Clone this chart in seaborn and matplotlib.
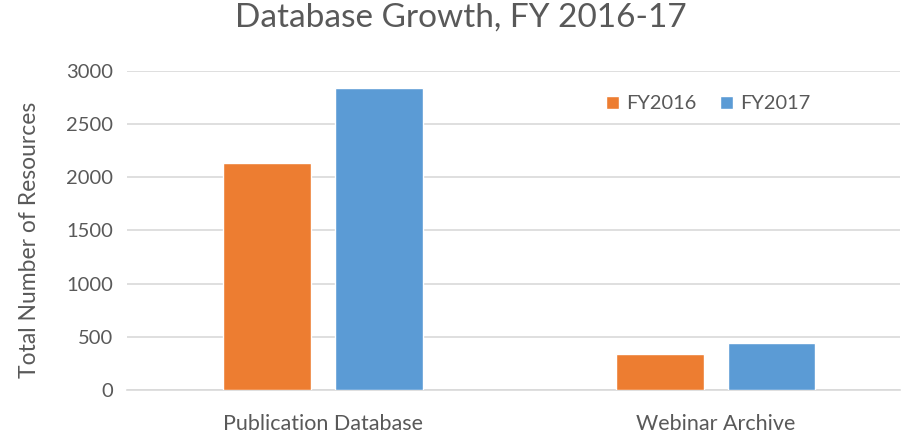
import pandas as pd
import seaborn as sns
from matplotlib import pyplot as plt

categories = ["Publication Database", "Webinar Archive"]
years = ["FY2016", "FY2017"]
fy2016 = [2135, 338]
fy2017 = [2835, 441]

df = pd.DataFrame({
    "Category": categories * 2,
    "Year": [years[0]] * 2 + [years[1]] * 2,
    "Resources": fy2016 + fy2017,
})

sns.set_style("white")
plt.rcParams["font.family"] = ["Lato", "DejaVu Sans"]
gray = "#595959"

fig = plt.figure(figsize=(9.02, 4.33), dpi=100)
ax = fig.add_axes([0.1408, 0.0993, 0.857, 0.737])

sns.barplot(data=df, x="Category", y="Resources", hue="Year",
            palette=["#ED7D31", "#5B9BD5"], width=0.57, gap=0.214,
            saturation=1, ax=ax, zorder=3)

ax.set_xlim(-0.5, 1.47)
ax.set_ylim(0, 3000)
ax.set_yticks(range(0, 3001, 500))
ax.yaxis.grid(True, color="#D9D9D9", linewidth=1.2, zorder=0)
ax.set_axisbelow(True)
for s in ["top", "right", "left"]:
    ax.spines[s].set_visible(False)
ax.spines["bottom"].set_color("#D9D9D9")
ax.spines["bottom"].set_linewidth(1.2)
ax.tick_params(axis="both", length=0, labelcolor=gray, pad=10)
ax.tick_params(axis="y", labelsize=14.5)
ax.tick_params(axis="x", labelsize=15.5, pad=17)
ax.set_xlabel("")
ax.set_ylabel("Total Number of Resources", fontsize=16.5, color=gray)
ax.yaxis.set_label_coords(-0.113, 0.47)
fig.suptitle("Database Growth, FY 2016-17", fontsize=24, color=gray,
             x=0.511, y=0.995, va="top")

ax.legend(loc="center", bbox_to_anchor=(0.752, 0.897), ncol=2, frameon=False,
          fontsize=14.4, labelcolor=gray, handlelength=0.65, handleheight=0.65,
          handletextpad=0.35, columnspacing=1.2)

plt.savefig("out.png", dpi=100)
